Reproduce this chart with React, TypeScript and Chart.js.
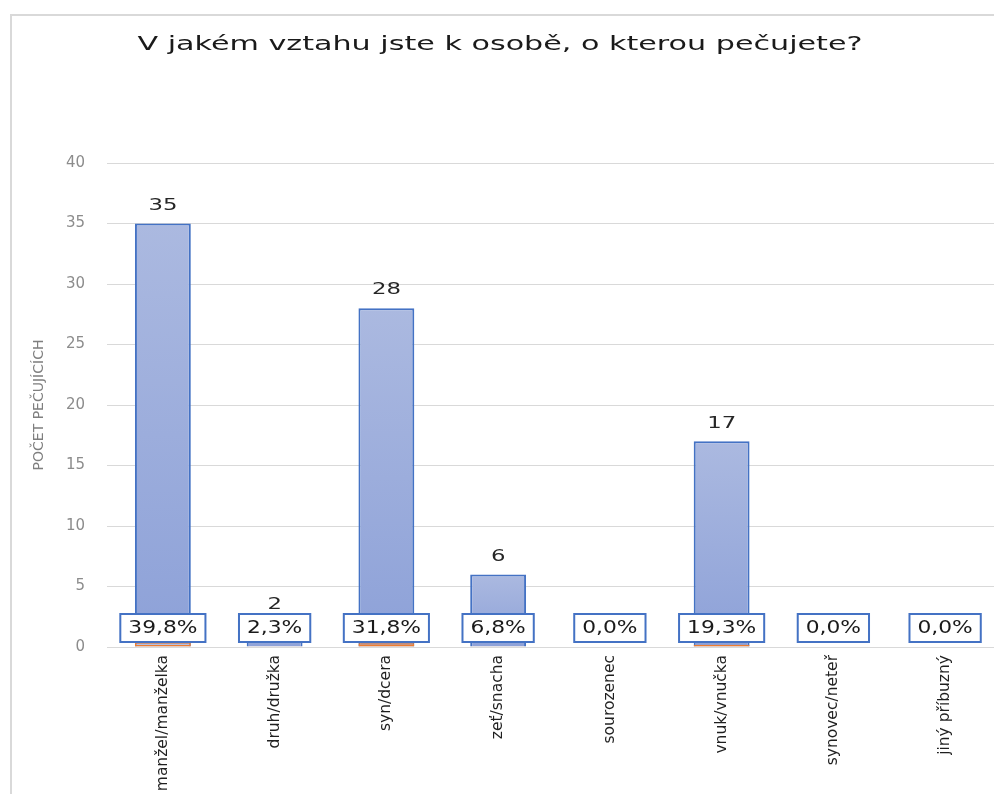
import React, { useEffect, useRef } from 'react';
import { Chart, registerables } from 'chart.js';

Chart.register(...registerables);

const categories = [
  'manžel/manželka',
  'druh/družka',
  'syn/dcera',
  'zeť/snacha',
  'sourozenec',
  'vnuk/vnučka',
  'synovec/neteř',
  'jiný příbuzný',
];
const counts = [35, 2, 28, 6, 0, 17, 0, 0];
const percents = [39.8, 2.3, 31.8, 6.8, 0.0, 19.3, 0.0, 0.0];
const shares = percents.map((p) => p / 100);

const chartTitle = 'V jakém vztahu jste k osobě, o kterou pečujete?';
const yAxisTitle = 'POČET PEČUJÍCÍCH';
const yMin = 0;
const yMax = 40;
const yStep = 5;

const W = 1001;
const H = 794;
const FONT = "'DejaVu Sans', sans-serif";

function fmtPct(p: number) {
  return p.toFixed(1).replace('.', ',') + '%';
}

function stretchedText(ctx: CanvasRenderingContext2D, txt: string, x: number, y: number, sx: number) {
  ctx.save();
  ctx.translate(x, y);
  ctx.scale(sx, 1);
  ctx.textAlign = 'center';
  ctx.textBaseline = 'middle';
  ctx.fillText(txt, 0, 0);
  ctx.restore();
}

export default function App() {
  const ref = useRef<HTMLCanvasElement>(null);

  useEffect(() => {
    const canvas = ref.current;
    if (!canvas) return;

    const decor = {
      id: 'decor',
      beforeDraw(chart: any) {
        const ctx = chart.ctx as CanvasRenderingContext2D;
        ctx.save();
        ctx.fillStyle = '#ffffff';
        ctx.fillRect(0, 0, chart.width, chart.height);
        ctx.strokeStyle = '#d9d9d9';
        ctx.lineWidth = 2;
        ctx.strokeRect(11, 15, 2000, 2000);
        ctx.font = `19px ${FONT}`;
        ctx.fillStyle = '#1a1a1a';
        const base = ctx.measureText(chartTitle).width;
        stretchedText(ctx, chartTitle, 500, 45, 725 / base);
        ctx.restore();
      },
      afterDatasetsDraw(chart: any) {
        const ctx = chart.ctx as CanvasRenderingContext2D;
        const xs = chart.scales.x;
        const ys = chart.scales.y;
        const zero = ys.getPixelForValue(0);
        ctx.save();
        ctx.font = `16.5px ${FONT}`;
        ctx.fillStyle = '#262626';
        counts.forEach((v, i) => {
          if (v <= 0) return;
          const x = xs.getPixelForValue(i);
          const y = ys.getPixelForValue(v);
          stretchedText(ctx, String(v), x, y - 18, 1.38);
        });
        ctx.font = `17px ${FONT}`;
        const sx = 1.28;
        percents.forEach((p, i) => {
          const txt = fmtPct(p);
          const x = xs.getPixelForValue(i);
          const cy = zero - 19;
          const tw = ctx.measureText(txt).width * sx;
          const bw = tw + 16;
          const bh = 28;
          ctx.fillStyle = '#ffffff';
          ctx.fillRect(x - bw / 2, cy - bh / 2, bw, bh);
          ctx.strokeStyle = '#4472C4';
          ctx.lineWidth = 2;
          ctx.strokeRect(x - bw / 2, cy - bh / 2, bw, bh);
          ctx.fillStyle = '#1a1a1a';
          stretchedText(ctx, txt, x, cy + 1, sx);
        });
        ctx.restore();
      },
    };

    const blueFill = (c: any) => {
      const chart = c.chart;
      const ys = chart.scales && chart.scales.y;
      if (!chart.chartArea || !ys || c.dataIndex === undefined) return '#9DAEDC';
      const v = counts[c.dataIndex];
      const top = ys.getPixelForValue(v);
      const bottom = ys.getPixelForValue(0);
      if (!(bottom > top)) return '#9DAEDC';
      const g = chart.ctx.createLinearGradient(0, top, 0, bottom);
      g.addColorStop(0, '#ABB9E0');
      g.addColorStop(1, '#8DA1D8');
      return g;
    };

    const chart = new Chart(canvas, {
      type: 'bar',
      data: {
        labels: categories,
        datasets: [
          {
            label: 'Počet',
            data: counts,
            backgroundColor: blueFill,
            borderColor: '#4472C4',
            borderWidth: 2,
            grouped: false,
            order: 1,
            barPercentage: 0.5,
            categoryPercentage: 1.0,
          } as any,
          {
            label: 'Podíl',
            data: shares,
            backgroundColor: '#B2C0E5',
            borderColor: '#ED7D31',
            borderWidth: (c: any) => (shares[c.dataIndex] > 0 ? 1.5 : 0),
            borderSkipped: false,
            grouped: false,
            order: 0,
            barPercentage: 0.5,
            categoryPercentage: 1.0,
          } as any,
        ],
      },
      options: {
        responsive: false,
        animation: false,
        devicePixelRatio: 1,
        layout: { padding: { top: 163, left: 0, right: 0, bottom: 0 } },
        plugins: {
          legend: { display: false },
          title: { display: false },
          tooltip: { enabled: false },
        },
        scales: {
          x: {
            grid: { display: false, drawTicks: false },
            border: { display: true, color: '#d9d9d9', width: 1 },
            ticks: {
              autoSkip: false,
              maxRotation: 90,
              minRotation: 90,
              padding: 8,
              color: '#1f1f1f',
              font: { family: FONT, size: 15.5 },
            },
            afterFit: (s: any) => {
              s.height = 147;
              s.paddingLeft = 0;
              s.paddingRight = 0;
            },
          },
          y: {
            min: yMin,
            max: yMax,
            ticks: {
              stepSize: yStep,
              padding: 22,
              color: '#8c8c8c',
              font: { family: FONT, size: 15 },
            },
            grid: { color: '#d9d9d9', lineWidth: 1, drawTicks: false },
            border: { display: false },
            title: {
              display: true,
              text: yAxisTitle,
              color: '#7f7f7f',
              font: { family: FONT, size: 14 },
              padding: { top: 31, bottom: 0 },
            },
            afterFit: (s: any) => {
              s.width = 107;
              s.paddingTop = 0;
              s.paddingBottom = 0;
            },
          },
        },
      },
      plugins: [decor],
    } as any);

    return () => chart.destroy();
  }, []);

  return (
    <div
      style={{
        position: 'fixed',
        left: 0,
        top: 0,
        width: 994,
        height: 794,
        overflow: 'hidden',
        background: '#ffffff',
      }}
    >
      <canvas ref={ref} width={W} height={H} style={{ width: W, height: H, display: 'block' }} />
    </div>
  );
}
